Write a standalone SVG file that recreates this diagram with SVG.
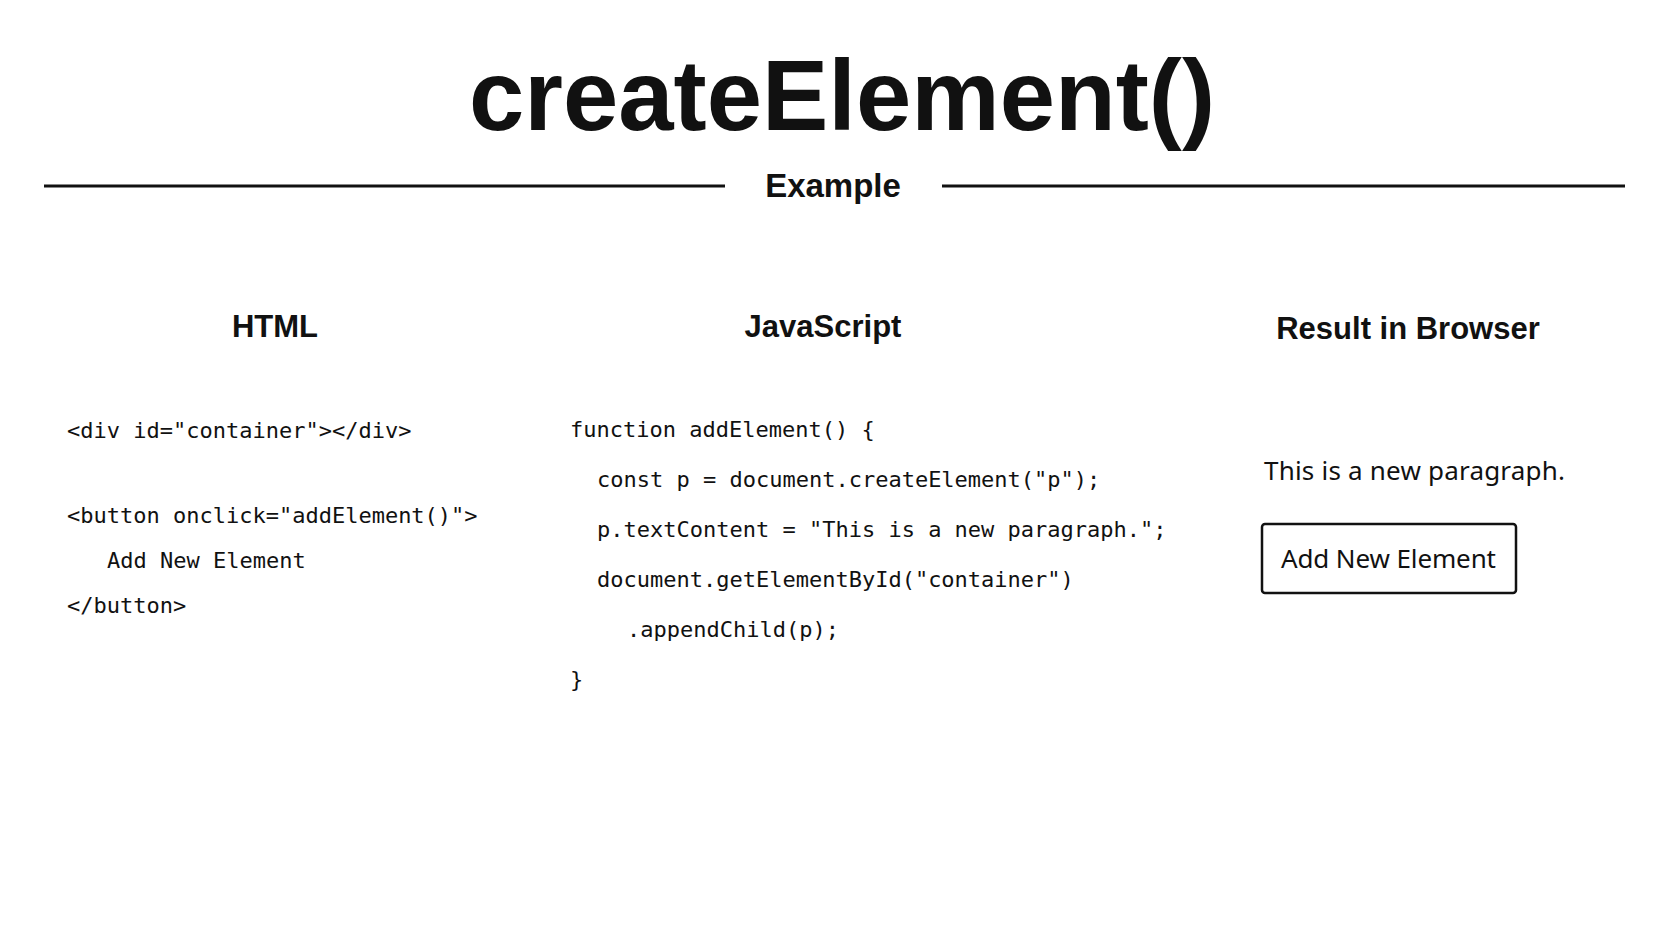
<svg xmlns="http://www.w3.org/2000/svg" width="1672" height="941" viewBox="0 0 1672 941">
<style>
.h{font-family:"Liberation Sans",Arial,sans-serif;font-weight:bold;fill:#111;text-anchor:middle}
.c{font-family:"DejaVu Sans Mono",monospace;font-size:22px;fill:#111}
.s{font-family:"Noto Sans","Liberation Sans",sans-serif;font-size:26px;fill:#111}
</style>
<rect width="1672" height="941" fill="#fff"/>
<g id="title">
<text class="h" x="842" y="130" font-size="101" textLength="746" lengthAdjust="spacingAndGlyphs">createElement()</text>
<line x1="44" y1="186" x2="725" y2="186" stroke="#111" stroke-width="3"/>
<line x1="942" y1="186" x2="1625" y2="186" stroke="#111" stroke-width="3"/>
<text class="h" x="833" y="197" font-size="33">Example</text>
</g>
<g id="html">
<text class="h" x="275" y="337" font-size="31">HTML</text>
<text class="c" x="67" y="438">&lt;div id="container"&gt;&lt;/div&gt;</text>
<text class="c" x="67" y="523">&lt;button onclick="addElement()"&gt;</text>
<text class="c" x="107" y="568">Add New Element</text>
<text class="c" x="67" y="613">&lt;/button&gt;</text>
</g>
<g id="js">
<text class="h" x="823" y="337" font-size="31">JavaScript</text>
<text class="c" x="570" y="437">function addElement() {</text>
<text class="c" x="597" y="487">const p = document.createElement("p");</text>
<text class="c" x="597" y="537">p.textContent = "This is a new paragraph.";</text>
<text class="c" x="597" y="587">document.getElementById("container")</text>
<text class="c" x="627" y="637">.appendChild(p);</text>
<text class="c" x="570" y="687">}</text>
</g>
<g id="result">
<text class="h" x="1408" y="339" font-size="31">Result in Browser</text>
<text class="s" x="1264" y="480" textLength="301">This is a new paragraph.</text>
<rect x="1262" y="524" width="254" height="69" rx="3" fill="#fff" stroke="#111" stroke-width="2.5"/>
<text class="s" x="1281" y="568" textLength="215">Add New Element</text>
</g>
</svg>
